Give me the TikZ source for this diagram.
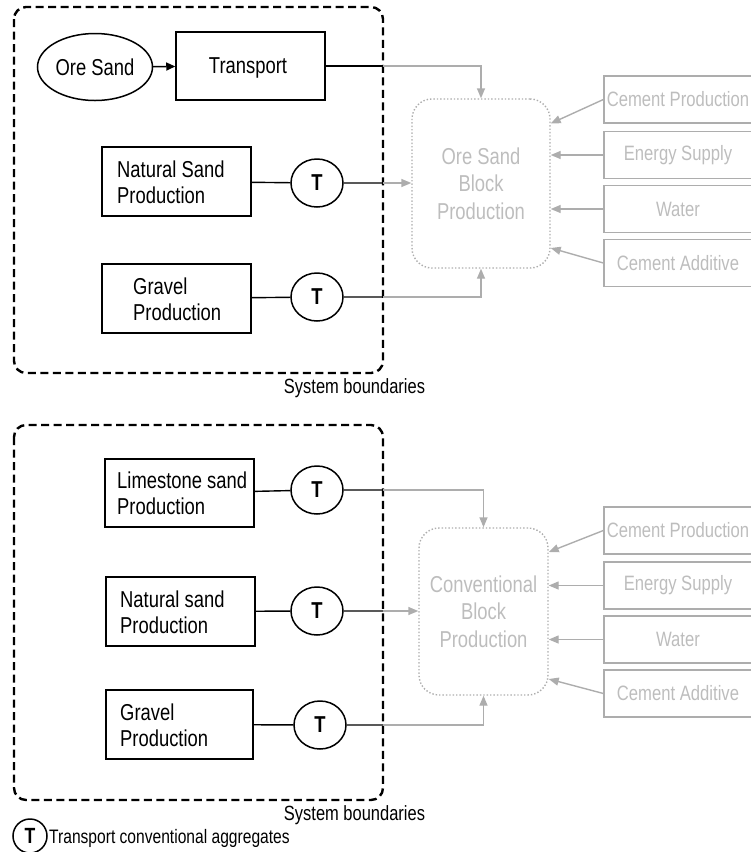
\documentclass[tikz,border=0pt]{standalone}
\usepackage{fontspec}
\setmainfont{Liberation Sans}[FakeStretch=0.80]
\usetikzlibrary{arrows.meta,shapes.geometric}
\definecolor{lg}{HTML}{ADADAD}
\definecolor{lgt}{HTML}{BDBDBD}
\begin{document}
\begin{tikzpicture}[x=1pt,y=-1pt,
  bnd/.style={draw, line width=2.4, dash pattern=on 8pt off 4.5pt, rounded corners=12},
  pbox/.style={draw, line width=1.5, inner sep=0},
  txt/.style={font=\fontsize{23}{26}\selectfont, align=left, inner sep=0},
  tnode/.style={draw, ellipse, line width=1.5, minimum width=52, minimum height=48, inner sep=0, font=\fontsize{23}{23}\selectfont\bfseries},
  blk/.style={draw=lg, dotted, line width=1.4, rounded corners=20, text=lgt, align=center, inner sep=0, font=\fontsize{23}{27.5}\selectfont},
  rbox/.style={draw=lg, line width=1.3, text=lgt, minimum width=148, minimum height=47, inner sep=0, font=\fontsize{20.8}{24}\selectfont},
  bl/.style={draw, line width=1.4},
  gline/.style={draw=lg, line width=1.4, -{Triangle[length=10pt,width=8pt]}},
  lbl/.style={font=\fontsize{20.6}{22}\selectfont, inner sep=0}
]
\useasboundingbox (0,0) rectangle (751,852);

% ---------------- Top section ----------------
\draw[bnd] (14,7) rectangle (383,373);
\node[lbl] (sb1) at (354.5,388) {System boundaries};

\node[draw, ellipse, line width=1.5, minimum width=115, minimum height=67, inner sep=0, font=\fontsize{23}{24}\selectfont] (ore) at (95,67) {Ore Sand};
\node[pbox, minimum width=149, minimum height=68] (tr) at (250.5,66) {};
\node[font=\fontsize{23}{24}\selectfont, inner sep=0] (trt) at (248,68) {Transport};
\draw[line width=1.5, -{Triangle[length=9pt,width=8pt]}] (ore) -- (tr);

\node[pbox, minimum width=149, minimum height=69] (ns1) at (176.5,181.5) {};
\node[txt, anchor=west] (ns1t) at (117,182) {Natural Sand\\Production};
\node[tnode] (t1) at (317,183) {T};

\node[pbox, minimum width=149, minimum height=69] (gr1) at (176.5,298.5) {};
\node[txt, anchor=west] (gr1t) at (133,299) {Gravel\\Production};
\node[tnode] (t2) at (317,297) {T};

\node[blk, minimum width=138, minimum height=169] (blk1) at (481,183.5) {Ore Sand\\Block\\Production};

\coordinate (c0) at (383,66);
\coordinate (c1) at (383,183);
\coordinate (c2) at (383,297);
\draw[bl] (tr.east) -- (c0);
\draw[gline] (c0) -| (blk1.north);
\draw[bl] (ns1) -- (t1) -- (c1);
\draw[gline] (c1) -- (blk1.west |- c1);
\draw[bl] (gr1) -- (t2) -- (c2);
\draw[gline] (c2) -| (blk1.south);

\node[rbox] (r1) at (678,99.5) {Cement Production};
\node[rbox] (r2) at (678,155) {Energy Supply};
\node[rbox] (r3) at (678,209) {Water};
\node[rbox] (r4) at (678,263) {Cement Additive};
\draw[gline] (r1.west) -- ([yshift=60pt]blk1.east);
\draw[gline] (r2.west) -- (blk1.east |- r2.west);
\draw[gline] (r3.west) -- (blk1.east |- r3.west);
\draw[gline] (r4.west) -- ([yshift=-64.5pt]blk1.east);

% ---------------- Bottom section ----------------
\draw[bnd] (14,425) rectangle (383,800);
\node[lbl] (sb2) at (354.5,815) {System boundaries};

\node[pbox, minimum width=149, minimum height=68] (ls) at (179.5,493) {};
\node[txt, anchor=west] (lst) at (117,493.5) {Limestone sand\\Production};
\node[tnode] (t3) at (317,490) {T};

\node[pbox, minimum width=149, minimum height=69] (ns2) at (180.5,611.5) {};
\node[txt, anchor=west] (ns2t) at (120,612) {Natural sand\\Production};
\node[tnode] (t4) at (317,611) {T};

\node[pbox, minimum width=147, minimum height=69] (gr2) at (179.5,724.5) {};
\node[txt, anchor=west] (gr2t) at (120,725) {Gravel\\Production};
\node[tnode] (t5) at (320,725) {T};

\node[blk, minimum width=129, minimum height=167] (blk2) at (483.5,611.5) {Conventional\\Block\\Production};

\coordinate (c3) at (383,490);
\coordinate (c4) at (383,611);
\coordinate (c5) at (383,725);
\draw[bl] (ls) -- (t3) -- (c3);
\draw[gline] (c3) -| (blk2.north);
\draw[bl] (ns2) -- (t4) -- (c4);
\draw[gline] (c4) -- (blk2.west |- c4);
\draw[bl] (gr2) -- (t5) -- (c5);
\draw[gline] (c5) -| (blk2.south);

\node[rbox] (r5) at (678,530.5) {Cement Production};
\node[rbox] (r6) at (678,585.5) {Energy Supply};
\node[rbox] (r7) at (678,639.5) {Water};
\node[rbox] (r8) at (678,693.5) {Cement Additive};
\draw[gline] (r5.west) -- ([yshift=59.5pt]blk2.east);
\draw[gline] (r6.west) -- (blk2.east |- r6.west);
\draw[gline] (r7.west) -- (blk2.east |- r7.west);
\draw[gline] (r8.west) -- ([yshift=-67.5pt]blk2.east);

% ---------------- Legend ----------------
\node[draw, circle, line width=1.5, minimum size=34, inner sep=0, font=\fontsize{22}{22}\selectfont\bfseries] (lt) at (30,836) {T};
\node[lbl, anchor=west, font=\fontsize{19.5}{20}\selectfont] (ltt) at (49,838) {Transport conventional aggregates};
\end{tikzpicture}
\end{document}
